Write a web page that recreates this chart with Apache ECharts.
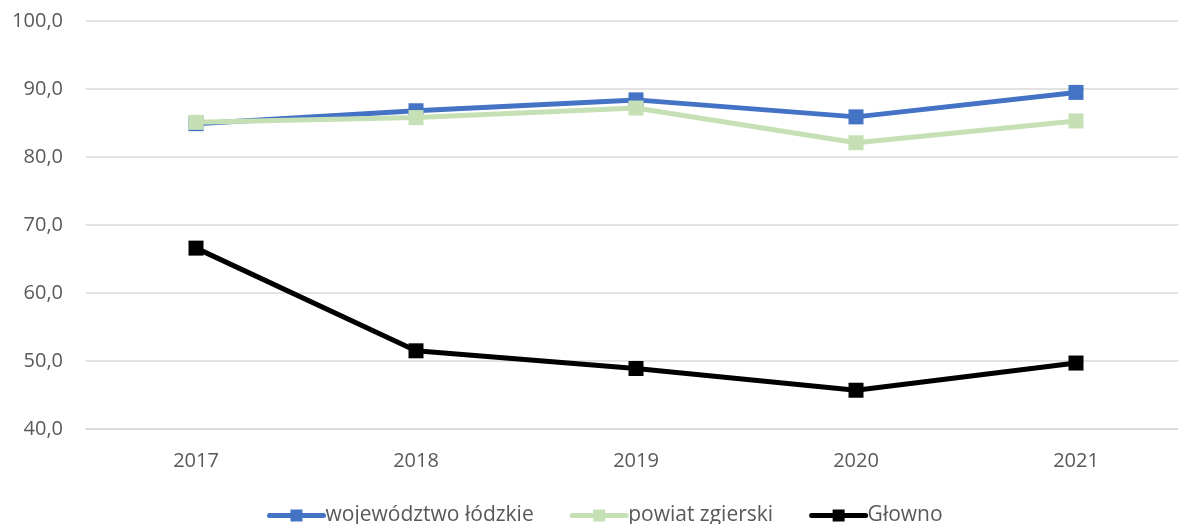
<!DOCTYPE html>
<html>
<head>
<meta charset="utf-8">
<script src="https://cdn.jsdelivr.net/npm/echarts@6/dist/echarts.min.js"></script>
<style>
  html, body { margin: 0; padding: 0; background: #ffffff; overflow: hidden; }
  #chart { width: 1190px; height: 524px; }
</style>
</head>
<body>
<div id="chart"></div>
<script>
// Years on the category axis
const years = ['2017', '2018', '2019', '2020', '2021'];

// Series values
const wojewodztwoLodzkie = [84.9, 86.8, 88.4, 85.9, 89.5];
const powiatZgierski = [85.1, 85.8, 87.2, 82.1, 85.3];
const glowno = [66.6, 51.5, 48.9, 45.7, 49.7];

// Series names
const seriesNames = ['województwo łódzkie', 'powiat zgierski', 'Głowno'];
const seriesColors = ['#4472C4', '#C5E0B4', '#000000'];

const FONT = '"Open Sans", "Noto Sans", sans-serif';

function makeSeries(name, data, color, z) {
  return {
    name: name,
    type: 'line',
    data: data,
    z: z,
    symbol: 'rect',
    symbolSize: 15,
    lineStyle: { color: color, width: 5 },
    itemStyle: { color: color },
    emphasis: { disabled: true }
  };
}

// The plot area runs slightly past the right edge of the visible page
const chart = echarts.init(document.getElementById('chart'), null, { renderer: 'canvas' });
chart.setOption({
  animation: false,
  backgroundColor: '#ffffff',
  grid: { left: 86, top: 21, bottom: 95, right: 4, containLabel: false },
  legend: {
    data: seriesNames,
    left: 262,
    top: 500,
    itemWidth: 54,
    itemHeight: 15,
    itemGap: 36,
    lineStyle: { width: 5, cap: 'round' },
    textStyle: { fontFamily: FONT, fontSize: 21, color: '#595959', padding: [0, 0, 0, -3] }
  },
  xAxis: {
    type: 'category',
    data: years,
    boundaryGap: true,
    axisLine: { show: true, lineStyle: { color: '#d9d9d9', width: 1.5 } },
    axisTick: { show: false },
    axisLabel: { fontFamily: FONT, fontSize: 20, color: '#595959', margin: 22 }
  },
  yAxis: {
    type: 'value',
    min: 40,
    max: 100,
    interval: 10,
    axisLine: { show: false },
    axisTick: { show: false },
    splitLine: { lineStyle: { color: '#d9d9d9', width: 1.5 } },
    axisLabel: {
      fontFamily: FONT, fontSize: 20, color: '#595959', margin: 23,
      formatter: v => v.toFixed(1).replace('.', ',')
    }
  },
  series: [
    makeSeries(seriesNames[0], wojewodztwoLodzkie, seriesColors[0], 2),
    makeSeries(seriesNames[1], powiatZgierski, seriesColors[1], 3),
    makeSeries(seriesNames[2], glowno, seriesColors[2], 4)
  ]
});
</script>
</body>
</html>
